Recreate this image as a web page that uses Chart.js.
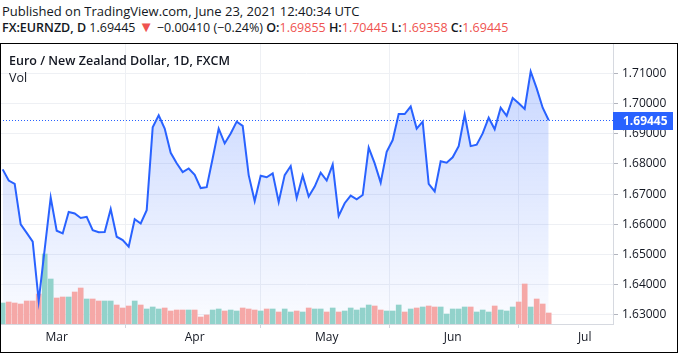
<!DOCTYPE html>
<html>
<head>
<meta charset="utf-8">
<script src="https://cdn.jsdelivr.net/npm/chart.js@4.4.1/dist/chart.umd.min.js"></script>
<style>
  body { margin: 0; background: #fff; font-family: "Open Sans", sans-serif; color: #131722; }
  #wrap { position: relative; width: 678px; height: 359px; overflow: hidden; }
  .hdr { position: absolute; left: 2px; font-size: 13px; white-space: nowrap; }
  .b { font-weight: 600; }
  .red { color: #ef5350; }
  .tri { color: #ef5350; font-size: 15px; line-height: 10px; }
  #frame { position: absolute; left: 0; top: 43px; width: 676px; height: 308px; border: 1px solid #000; pointer-events: none; }
  #box { position: absolute; left: 0; top: 43px; width: 678px; height: 316px; }
  .lbl { position: absolute; left: 9px; font-size: 12.5px; white-space: nowrap; }
</style>
</head>
<body>
<div id="wrap">
  <div class="hdr" style="top:2px">Published on TradingView.com, June 23, 2021 12:40:34 UTC</div>
  <div class="hdr" style="top:19px;font-size:12.5px"><span class="b">FX:EURNZD, D</span> 1.69445 <span class="tri">&#9660;</span> &minus;0.00410 (&minus;0.24%) <span class="b">O:</span><span class="red">1.69855</span> <span class="b">H:</span><span class="red">1.70445</span> <span class="b">L:</span><span class="red">1.69358</span> <span class="b">C:</span><span class="red">1.69445</span></div>
  <div id="box"><canvas id="priceChart" width="678" height="316"></canvas></div>
  <div class="lbl b" style="top:52px">Euro / New Zealand Dollar, 1D, FXCM</div>
  <div class="lbl" style="top:69px">Vol</div>
  <div id="frame"></div>
</div>
<script>
// daily closes, Feb 16 - Jun 23 2021 (one per trading day)
var closes = [1.6782,1.6745,1.6734,1.6600,1.6572,1.6543,1.6347,1.6518,1.6689,1.6579,
  1.6570,1.6641,1.6636,1.6621,1.6625,1.6581,1.6574,1.6575,1.6651,1.6559,
  1.6548,1.6526,1.6617,1.6603,1.6647,1.6921,1.6961,1.6917,1.6837,1.6802,
  1.6773,1.6785,1.6764,1.6720,1.6723,1.6819,1.6917,1.6868,1.6901,1.6940,
  1.6926,1.6763,1.6677,1.6761,1.6756,1.6769,1.6674,1.6763,1.6793,1.6687,
  1.6762,1.6692,1.6725,1.6771,1.6745,1.6798,1.6628,1.6670,1.6695,1.6683,
  1.6697,1.6854,1.6802,1.6738,1.6840,1.6879,1.6965,1.6965,1.6990,1.6917,
  1.6940,1.6734,1.6709,1.6809,1.6804,1.6822,1.6859,1.6963,1.6859,1.6864,
  1.6901,1.6953,1.6915,1.6986,1.6959,1.7018,1.7001,1.6982,1.7106,1.7050,
  1.6986,1.69445];
// volume (relative)
var volumes = [21,22,21,20,23,23,30,70,45,26,
  27,27,32,36,25,25,23,23,23,19,
  16,18,23,19,15,17,15,16,13,14,
  14,14,14,7,9,14,15,13,14,13,
  16,15,14,13,15,15,12,15,12,13,
  12,16,15,15,12,16,12,13,16,14,
  16,19,18,14,13,13,19,12,15,16,
  17,18,17,17,10,15,15,17,17,12,
  14,12,18,14,13,17,22,40,17,25,
  20,11];
// 1 = up day (green volume), 0 = down day
var volUp = [1,0,0,0,0,0,0,1,1,0,
  0,1,0,0,1,0,0,1,1,0,
  0,0,1,0,1,1,1,0,0,0,
  0,1,0,0,0,1,1,0,1,1,
  0,0,0,1,0,1,0,1,1,0,
  1,0,1,1,0,1,0,1,1,1,
  1,1,0,0,1,1,1,0,1,0,
  1,0,0,1,1,1,1,1,0,1,
  1,1,0,1,1,1,0,0,1,0,
  0,0];
var monthLabels = ['Mar', 'Apr', 'May', 'Jun', 'Jul'];
var monthBars = [9, 32, 54, 75, 97];
var priceTicks = [1.63, 1.64, 1.65, 1.66, 1.67, 1.68, 1.69, 1.70, 1.71];
var lastPrice = 1.69445;

var gridCol = '#eef0f4';
var textCol = '#131722';

var lastPricePlugin = {
  id: 'lastPrice',
  afterDraw: function (chart) {
    var c = chart.ctx, a = chart.chartArea;
    var y = Math.round(chart.scales.y.getPixelForValue(lastPrice));
    c.save();
    c.strokeStyle = '#2962ff';
    c.lineWidth = 1;
    c.setLineDash([1, 2]);
    c.beginPath();
    c.moveTo(a.left, y + 0.5);
    c.lineTo(a.right, y + 0.5);
    c.stroke();
    c.setLineDash([]);
    c.fillStyle = '#2962ff';
    c.fillRect(a.right, y - 8, 60, 18);
    c.fillStyle = '#fff';
    c.font = 'bold 12px "Open Sans"';
    c.textBaseline = 'middle';
    c.textAlign = 'left';
    c.fillText(lastPrice.toFixed(5), a.right + 10, y + 1.5);
    c.restore();
  }
};

var ctx = document.getElementById('priceChart').getContext('2d');
var myChart = new Chart(ctx, {
  type: 'line',
  data: {
    datasets: [{
      type: 'line',
      data: closes.map(function (v, i) { return { x: i, y: v }; }),
      borderColor: '#2962ff',
      borderWidth: 2,
      pointRadius: 0,
      tension: 0,
      fill: 'start',
      backgroundColor: function (context) {
        var a = context.chart.chartArea;
        if (!a) return 'rgba(41,98,255,0.15)';
        var g = context.chart.ctx.createLinearGradient(0, a.top, 0, a.bottom);
        g.addColorStop(0, 'rgba(41,98,255,0.28)');
        g.addColorStop(1, 'rgba(41,98,255,0.02)');
        return g;
      },
      yAxisID: 'y',
      order: 0
    }, {
      type: 'bar',
      data: volumes.map(function (v, i) { return { x: i, y: v }; }),
      backgroundColor: volUp.map(function (u) { return u ? '#92d2cb' : '#f5a8a7'; }),
      barThickness: 5,
      yAxisID: 'v',
      order: 1
    }]
  },
  options: {
    responsive: false,
    animation: false,
    layout: { padding: 0 },
    plugins: {
      legend: { display: false },
      tooltip: { enabled: false },
      filler: { drawTime: 'beforeDatasetsDraw' }
    },
    scales: {
      x: {
        type: 'linear',
        offset: false,
        min: -0.45,
        max: 101.72,
        afterBuildTicks: function (s) { s.ticks = monthBars.map(function (b) { return { value: b }; }); },
        afterFit: function (s) { s.height = 35; s.paddingLeft = 0; s.paddingRight = 0; },
        ticks: {
          autoSkip: false,
          maxRotation: 0,
          padding: 2,
          color: textCol,
          font: { family: 'Open Sans', size: 12 },
          callback: function (v) { return monthLabels[monthBars.indexOf(v)]; }
        },
        grid: { color: gridCol, tickLength: 4, tickColor: '#d1d4dc' },
        border: { color: '#d6d9e0' }
      },
      y: {
        position: 'right',
        min: 1.62702,
        max: 1.72003,
        afterBuildTicks: function (s) { s.ticks = priceTicks.map(function (p) { return { value: p }; }); },
        afterFit: function (s) { s.width = 65; s.paddingTop = 0; s.paddingBottom = 0; },
        ticks: {
          padding: 4,
          color: textCol,
          font: { family: 'Open Sans', size: 12 },
          callback: function (v) { return v.toFixed(5); }
        },
        grid: { color: gridCol, tickLength: 5, tickColor: '#b2b5be' },
        border: { color: '#d6d9e0' }
      },
      v: {
        display: false,
        min: 0,
        max: 281
      }
    }
  },
  plugins: [lastPricePlugin]
});
</script>
</body>
</html>
